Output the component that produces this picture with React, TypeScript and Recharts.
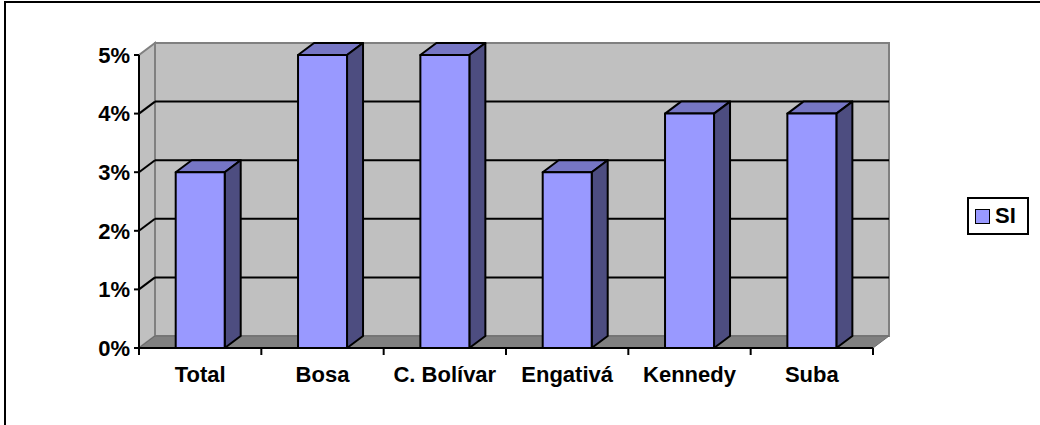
import React from 'react';
import { BarChart, Bar, XAxis, YAxis, CartesianGrid, Legend } from 'recharts';

// Porcentaje de respuestas "SI" por localidad
const categories = ['Total', 'Bosa', 'C. Bolívar', 'Engativá', 'Kennedy', 'Suba'];
const siValues = [0.03, 0.05, 0.05, 0.03, 0.04, 0.04];
const yTicks = [0, 0.01, 0.02, 0.03, 0.04, 0.05];

const data = categories.map((name, i) => ({ name, si: siValues[i] }));

// 3D depth offset
const DX = 16;
const DY = -12;

const FONT = '"Liberation Sans", Arial, sans-serif';
const WALL = '#c0c0c0';
const FLOOR = '#808080';
const EDGE = '#808080';
const FRONT = '#9999ff';
const TOP = '#7676c4';
const SIDE = '#4d4d80';

const renderGridLine = (props: any) => {
  const { x, y, width, height, y1, index } = props;
  const bottom = y + height;
  const isEdge = Math.abs(y1 - y) < 0.5 || Math.abs(y1 - bottom) < 0.5;
  return (
    <g key={`grid-${index}`}>
      {index === 0 && (
        <g>
          {/* back wall */}
          <rect x={x + DX} y={y + DY} width={width} height={height} fill={WALL} stroke={EDGE} strokeWidth={2} />
          {/* left wall */}
          <polygon
            points={`${x},${bottom} ${x},${y} ${x + DX},${y + DY} ${x + DX},${bottom + DY}`}
            fill={WALL}
            stroke={EDGE}
            strokeWidth={2}
          />
          {/* floor */}
          <polygon
            points={`${x},${bottom} ${x + width},${bottom} ${x + width + DX},${bottom + DY} ${x + DX},${bottom + DY}`}
            fill={FLOOR}
            stroke="#6a6a6a"
            strokeWidth={1}
          />
        </g>
      )}
      {!isEdge && (
        <g>
          <line x1={x} y1={y1} x2={x + DX} y2={y1 + DY} stroke="#000" strokeWidth={2} />
          <line x1={x + DX} y1={y1 + DY} x2={x + width + DX} y2={y1 + DY} stroke="#000" strokeWidth={2} />
        </g>
      )}
    </g>
  );
};

const Bar3D = (props: any) => {
  const { x, y, width, height } = props;
  if (!height) return null;
  const r = x + width;
  const b = y + height;
  return (
    <g stroke="#000" strokeWidth={2} strokeLinejoin="round">
      <polygon points={`${x},${y} ${x + DX},${y + DY} ${r + DX},${y + DY} ${r},${y}`} fill={TOP} />
      <polygon points={`${r},${y} ${r + DX},${y + DY} ${r + DX},${b + DY} ${r},${b}`} fill={SIDE} />
      <rect x={x} y={y} width={width} height={height} fill={FRONT} />
    </g>
  );
};

const XTick = (props: any) => {
  const { x, y, payload, index, width, visibleTicksCount } = props;
  const half =
    typeof payload?.offset === 'number' && payload.offset > 0
      ? payload.offset
      : width / (2 * categories.length);
  const last = index === (visibleTicksCount ?? categories.length) - 1;
  return (
    <g>
      <line x1={x - half} y1={y} x2={x - half} y2={y + 7} stroke="#000" strokeWidth={2} />
      {last && <line x1={x + half} y1={y} x2={x + half} y2={y + 7} stroke="#000" strokeWidth={2} />}
      <text x={x} y={y + 34} textAnchor="middle" fontFamily={FONT} fontWeight="bold" fontSize={22} fill="#000">
        {payload.value}
      </text>
    </g>
  );
};

const renderLegend = () => (
  <div
    style={{
      boxSizing: 'border-box',
      width: 62,
      height: 38,
      border: '2px solid #000',
      background: '#fff',
      display: 'flex',
      alignItems: 'center',
      paddingLeft: 6,
      fontFamily: FONT,
      fontWeight: 'bold',
      fontSize: 22,
    }}
  >
    <span
      style={{
        display: 'inline-block',
        width: 13,
        height: 13,
        background: FRONT,
        border: '1.5px solid #000',
        marginRight: 5,
      }}
    />
    SI
  </div>
);

export default function App() {
  return (
    <div style={{ position: 'absolute', left: 0, top: 0, width: 1040, height: 425, overflow: 'hidden', background: '#fff' }}>
      <div
        style={{
          position: 'absolute',
          left: 4,
          top: 1,
          width: 1100,
          height: 500,
          borderLeft: '2px solid #000',
          borderTop: '2px solid #000',
        }}
      />
      <div style={{ position: 'absolute', left: 0, top: 0 }}>
        <BarChart
          width={1040}
          height={425}
          data={data}
          margin={{ top: 55, right: 167, bottom: 37, left: 79 }}
          barCategoryGap="30%"
        >
          <CartesianGrid horizontal={renderGridLine} vertical={false} />
          <XAxis
            dataKey="name"
            height={40}
            tickLine={false}
            tickSize={0}
            tickMargin={0}
            axisLine={{ stroke: '#000', strokeWidth: 2 }}
            tick={<XTick />}
            interval={0}
          />
          <YAxis
            width={60}
            domain={[0, 0.05]}
            ticks={yTicks}
            interval={0}
            tickFormatter={(v: number) => `${Math.round(v * 100)}%`}
            axisLine={{ stroke: '#000', strokeWidth: 2 }}
            tickLine={{ stroke: '#000', strokeWidth: 2 }}
            tickSize={5}
            tickMargin={4}
            tick={{ fill: '#000', fontFamily: FONT, fontWeight: 'bold', fontSize: 22 }}
          />
          <Legend
            layout="horizontal"
            verticalAlign="middle"
            align="center"
            content={renderLegend}
            wrapperStyle={{ position: 'absolute', left: 967, top: 197, width: 62, height: 38 }}
          />
          <Bar dataKey="si" name="SI" shape={<Bar3D />} isAnimationActive={false} />
        </BarChart>
      </div>
    </div>
  );
}
